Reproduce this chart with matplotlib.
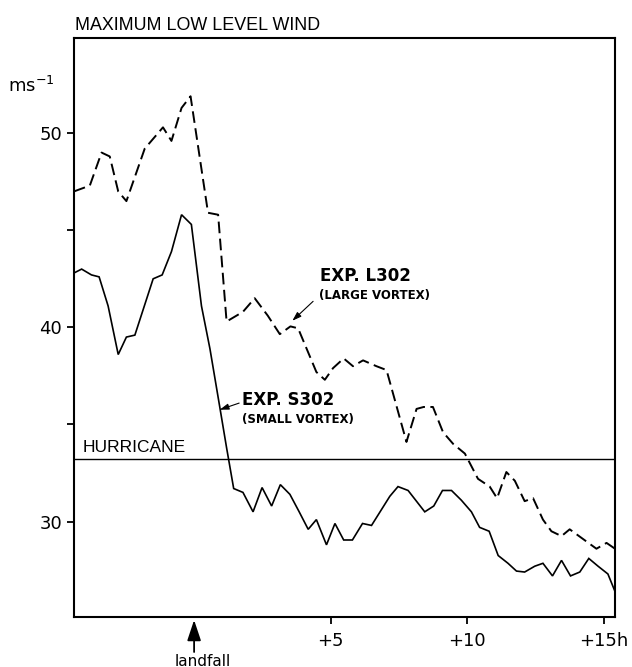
import matplotlib
matplotlib.use("Agg")
import matplotlib.pyplot as plt

# ---- data (hours relative to landfall, wind in m/s) ----
t_large = [-4.40, -3.82, -3.39, -3.09, -2.78, -2.48, -1.81, -1.14, -0.83, -0.46,
           -0.13, 0.51, 0.88, 1.19, 1.79, 2.22, 2.70, 3.14, 3.53, 3.81,
           4.48, 4.79, 5.09, 5.48, 5.82, 6.19, 6.68, 7.05, 7.78, 8.15,
           8.41, 8.75, 9.12, 9.49, 9.92, 10.40, 10.83, 11.10, 11.44, 11.75,
           12.11, 12.42, 12.78, 13.09, 13.46, 13.76, 14.74, 15.11, 15.42]
v_large = [47.0, 47.3, 49.0, 48.8, 47.0, 46.5, 49.2, 50.3, 49.6, 51.3,
           51.9, 45.9, 45.8, 40.3, 40.8, 41.5, 40.6, 39.65, 40.05, 39.95,
           37.7, 37.3, 37.9, 38.4, 38.0, 38.3, 38.0, 37.8, 34.1, 35.8,
           35.9, 35.9, 34.6, 34.0, 33.5, 32.2, 31.8, 31.2, 32.55, 32.1,
           31.05, 31.2, 30.1, 29.5, 29.25, 29.6, 28.6, 28.9, 28.6]

t_small = [-4.40, -4.12, -3.76, -3.48, -3.15, -2.78, -2.48, -2.17, -1.50, -1.17,
           -0.83, -0.46, -0.10, 0.27, 0.58, 0.94, 1.19, 1.45, 1.79, 2.16,
           2.49, 2.84, 3.16, 3.51, 3.85, 4.18, 4.48, 4.85, 5.16, 5.48,
           5.80, 6.17, 6.50, 7.17, 7.47, 7.84, 8.45, 8.78, 9.10, 9.43,
           9.79, 10.16, 10.46, 10.81, 11.14, 11.50, 11.81, 12.11, 12.48, 12.78,
           13.13, 13.46, 13.79, 14.13, 14.46, 14.80, 15.16, 15.42]
v_small = [42.8, 43.0, 42.7, 42.6, 41.1, 38.6, 39.5, 39.6, 42.5, 42.7,
           43.9, 45.8, 45.3, 41.1, 38.9, 35.9, 33.8, 31.7, 31.5, 30.5,
           31.75, 30.8, 31.9, 31.4, 30.5, 29.6, 30.1, 28.8, 29.9, 29.05,
           29.05, 29.9, 29.8, 31.3, 31.8, 31.6, 30.5, 30.8, 31.6, 31.6,
           31.1, 30.5, 29.7, 29.5, 28.25, 27.85, 27.45, 27.4, 27.7, 27.85,
           27.2, 28.0, 27.2, 27.4, 28.1, 27.7, 27.3, 26.4]

hurricane_level = 33.2
x_ticks = [5, 10, 15]
x_tick_labels = ["+5", "+10", "+15h"]
y_ticks = [30, 35, 40, 45, 50]
y_tick_labels = ["30", "", "40", "", "50"]

W, H = 632, 667
fig = plt.figure(figsize=(W / 100, H / 100), dpi=100)
ax = fig.add_axes([74 / W, 1 - 616.7 / H, (615 - 74) / W, (616.7 - 38) / H])

ax.plot(t_small, v_small, color="black", lw=1.2, solid_joinstyle="miter")
ax.plot(t_large, v_large, color="black", lw=1.4, dashes=(6.0, 2.8))
ax.axhline(hurricane_level, color="black", lw=1.0)

ax.set_xlim(-4.4, 15.42)
ax.set_ylim(25.1, 54.9)

ax.set_xticks(x_ticks)
ax.set_xticklabels(x_tick_labels)
ax.set_yticks(y_ticks)
ax.set_yticklabels(y_tick_labels)
ax.tick_params(axis="both", direction="out", length=5, width=1.3, labelsize=13, color="black")
ax.tick_params(axis="x", pad=6)
ax.tick_params(axis="y", pad=3.5)
for s in ax.spines.values():
    s.set_linewidth(1.5)

sans = ["Liberation Sans", "DejaVu Sans"]

# title & unit
fig.text(75 / W, 1 - 30 / H, "MAXIMUM LOW LEVEL WIND", family=sans, fontsize=12.9,
         ha="left", va="baseline")
fig.text(8 / W, 1 - 92 / H, "ms$^{-1}$", fontsize=13, ha="left", va="baseline")

# hurricane label
ax.text(-4.07, 33.58, "HURRICANE", family=sans, fontsize=12.5, ha="left", va="baseline")

# experiment labels
ax.text(4.60, 42.38, "EXP. L302", fontsize=12, fontweight="bold", ha="left", va="baseline")
ax.text(4.59, 41.46, "(LARGE VORTEX)", fontsize=8.5, fontweight="bold", ha="left", va="baseline")
ax.text(1.74, 36.0, "EXP. S302", fontsize=12, fontweight="bold", ha="left", va="baseline")
ax.text(1.75, 35.07, "(SMALL VORTEX)", fontsize=8.5, fontweight="bold", ha="left", va="baseline")

ap = dict(arrowstyle="-|>,head_length=0.45,head_width=0.15", color="black", lw=0.8,
          mutation_scale=12, shrinkA=0, shrinkB=0)
ax.annotate("", xy=(3.60, 40.34), xytext=(4.36, 41.34), arrowprops=ap)
ax.annotate("", xy=(0.94, 35.76), xytext=(1.65, 36.1), arrowprops=ap)

# landfall arrow
trans = ax.get_xaxis_transform()
ax.annotate("", xy=(0, -3.3 / 578.7), xycoords=trans,
            xytext=(0, -35.3 / 578.7), textcoords=trans,
            arrowprops=dict(arrowstyle="-|>,head_length=0.9,head_width=0.3", color="black",
                            lw=1.3, mutation_scale=14, shrinkA=0, shrinkB=0),
            annotation_clip=False)
ax.text(0.33, -(665.5 - 616.7) / 578.7, "landfall", transform=trans, fontsize=11,
        ha="center", va="baseline", clip_on=False)

fig.savefig("out.png", dpi=100, facecolor="white")
